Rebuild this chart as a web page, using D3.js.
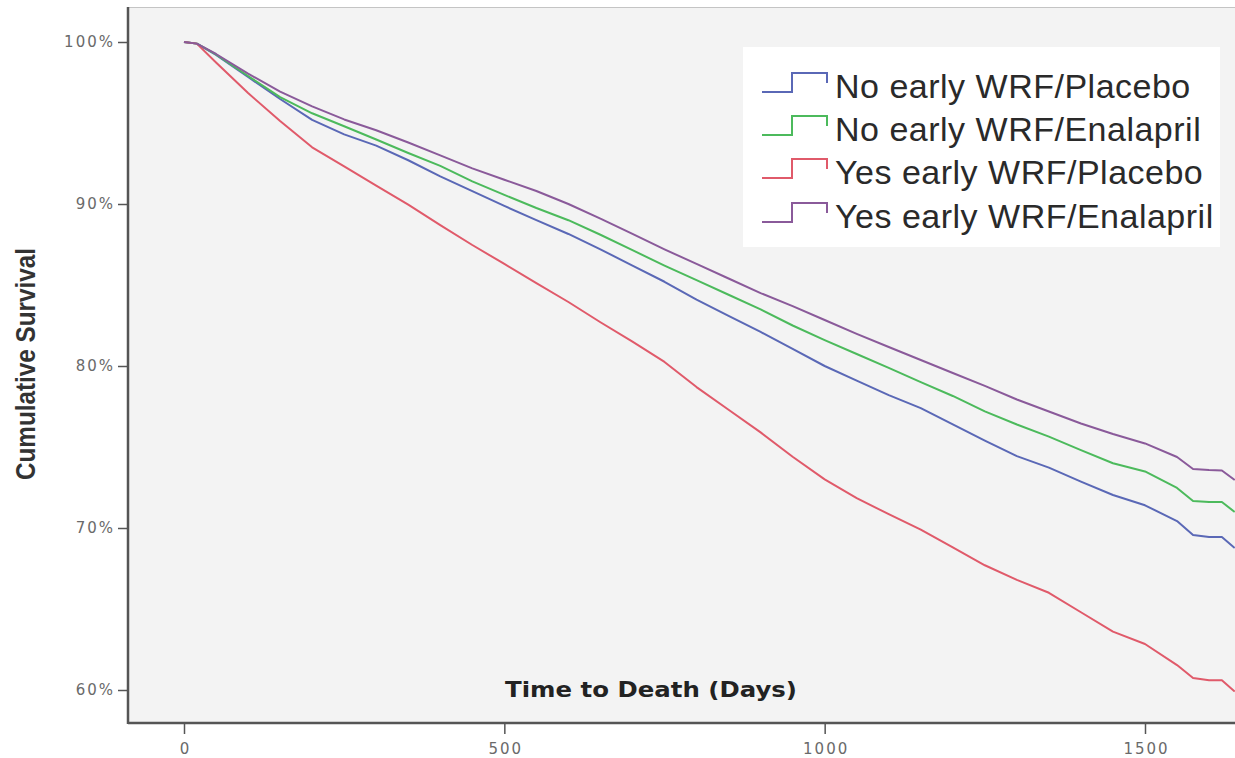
<!DOCTYPE html>
<html>
<head>
<meta charset="utf-8">
<script src="https://cdn.jsdelivr.net/npm/d3@7"></script>
<style>
  html, body { margin: 0; padding: 0; background: #ffffff; }
  svg { display: block; }
</style>
</head>
<body>
<svg id="chart" width="1235" height="758"></svg>
<script>
// ---- data ----
const days = [0,20,50,100,150,200,250,300,350,400,450,500,550,600,650,700,750,800,850,900,950,1000,1050,1100,1150,1200,1250,1300,1350,1400,1450,1500,1550,1575,1600,1620,1640];
const noWrfPlacebo = [100,99.9,99.2,97.84,96.48,95.19,94.3,93.6,92.7,91.7,90.8,89.88,89.0,88.15,87.2,86.2,85.2,84.1,83.1,82.1,81.05,80.0,79.1,78.2,77.4,76.4,75.4,74.44,73.73,72.86,72.04,71.4,70.43,69.57,69.44,69.44,68.77];
const noWrfEnalapril = [100,99.9,99.23,97.9,96.6,95.6,94.8,93.98,93.15,92.35,91.4,90.56,89.75,89.0,88.1,87.15,86.2,85.3,84.4,83.5,82.5,81.6,80.74,79.88,79.0,78.15,77.2,76.39,75.64,74.81,74.0,73.49,72.47,71.67,71.6,71.6,70.99];
const yesWrfPlacebo = [100,99.9,98.73,96.85,95.12,93.5,92.32,91.14,89.96,88.7,87.47,86.3,85.12,83.95,82.7,81.5,80.25,78.7,77.3,75.9,74.4,73.0,71.85,70.85,69.9,68.8,67.7,66.8,66.0,64.8,63.6,62.84,61.54,60.74,60.6,60.6,59.9];
const yesWrfEnalapril = [100,99.9,99.26,98.05,96.94,96.03,95.22,94.55,93.8,93.0,92.2,91.5,90.8,90.0,89.1,88.15,87.2,86.3,85.4,84.5,83.7,82.84,81.98,81.17,80.37,79.57,78.77,77.93,77.19,76.45,75.8,75.22,74.38,73.64,73.58,73.55,72.96];
const seriesLabels = ["No early WRF/Placebo","No early WRF/Enalapril","Yes early WRF/Placebo","Yes early WRF/Enalapril"];
const yTicks = [60,70,80,90,100];
const xTicks = [0,500,1000,1500];
const xTitle = "Time to Death (Days)";
const yTitle = "Cumulative Survival";

// ---- layout ----
const svg = d3.select("#chart");
const frame = {left: 128, top: 7, right: 1235, bottom: 723};
const x = d3.scaleLinear().domain([0, 1500]).range([184, 1145]);
const y = d3.scaleLinear().domain([60, 100]).range([690, 42]);
const colors = ["#5a68b6", "#4cba5c", "#e05a6a", "#8a5a9a"];
const series = [noWrfPlacebo, noWrfEnalapril, yesWrfPlacebo, yesWrfEnalapril];

// plot background
svg.append("rect")
  .attr("x", frame.left).attr("y", frame.top)
  .attr("width", frame.right - frame.left).attr("height", frame.bottom - frame.top)
  .attr("fill", "#f3f3f3");
svg.append("line")
  .attr("x1", frame.left).attr("x2", frame.right)
  .attr("y1", frame.top + 0.5).attr("y2", frame.top + 0.5)
  .attr("stroke", "#c4c4c4").attr("stroke-width", 1);

svg.append("clipPath").attr("id", "clip")
  .append("rect")
  .attr("x", frame.left).attr("y", frame.top)
  .attr("width", frame.right - frame.left).attr("height", frame.bottom - frame.top);

// curves
const line = d3.line()
  .x((d, i) => x(days[i]))
  .y(d => y(d))
  .curve(d3.curveLinear);

const g = svg.append("g").attr("clip-path", "url(#clip)");
series.forEach((s, k) => {
  g.append("path")
    .datum(s)
    .attr("d", line)
    .attr("fill", "none")
    .attr("stroke", colors[k])
    .attr("stroke-width", 2)
    .attr("stroke-linejoin", "round");
});

// axes
const tickFont = (sel) => sel.selectAll("text")
  .attr("font-family", "'DejaVu Sans', sans-serif")
  .attr("font-size", 15)
  .attr("letter-spacing", 2)
  .attr("fill", "#6a6a6a");

const yAxis = svg.append("g")
  .attr("transform", `translate(${frame.left},0)`)
  .call(d3.axisLeft(y).tickValues(yTicks).tickSize(10).tickPadding(3).tickFormat(d => d + "%"));
yAxis.select(".domain").remove();
yAxis.selectAll(".tick line").attr("stroke", "#555").attr("stroke-width", 1.5);
tickFont(yAxis);

const xAxis = svg.append("g")
  .attr("transform", `translate(0,${frame.bottom})`)
  .call(d3.axisBottom(x).tickValues(xTicks).tickSize(11).tickPadding(9).tickFormat(d3.format("d")));
xAxis.select(".domain").remove();
xAxis.selectAll(".tick line").attr("stroke", "#555").attr("stroke-width", 1.5);
tickFont(xAxis);
xAxis.selectAll("text").attr("dx", 1);

// axis lines
svg.append("line")
  .attr("x1", frame.left).attr("x2", frame.left)
  .attr("y1", frame.top).attr("y2", frame.bottom + 1)
  .attr("stroke", "#555").attr("stroke-width", 2.5);
svg.append("line")
  .attr("x1", frame.left).attr("x2", frame.right)
  .attr("y1", frame.bottom).attr("y2", frame.bottom)
  .attr("stroke", "#555").attr("stroke-width", 2.5);

// titles
svg.append("text")
  .attr("transform", "translate(35,364) rotate(-90)")
  .attr("text-anchor", "middle")
  .attr("font-family", "'Liberation Sans', Arial, sans-serif")
  .attr("font-weight", "bold")
  .attr("font-size", 27)
  .attr("textLength", 232)
  .attr("lengthAdjust", "spacingAndGlyphs")
  .attr("fill", "#333")
  .text(yTitle);

svg.append("text")
  .attr("x", 505).attr("y", 697)
  .attr("font-family", "'DejaVu Sans', sans-serif")
  .attr("font-weight", "bold")
  .attr("font-size", 21)
  .attr("textLength", 292)
  .attr("lengthAdjust", "spacingAndGlyphs")
  .attr("fill", "#222")
  .text(xTitle);

// legend
const legend = svg.append("g");
legend.append("rect")
  .attr("x", 743).attr("y", 47).attr("width", 477).attr("height", 200)
  .attr("fill", "#ffffff");
const baselines = [98, 141, 184, 228];
const legendWidths = [352, 364, 370, 380];
seriesLabels.forEach((lab, k) => {
  const b = baselines[k];
  legend.append("path")
    .attr("d", `M762,${b - 6}H792V${b - 25}H827V${b - 15}`)
    .attr("fill", "none")
    .attr("stroke", colors[k])
    .attr("stroke-width", 2);
  legend.append("text")
    .attr("x", 835).attr("y", b)
    .attr("font-family", "'Liberation Sans', Arial, sans-serif")
    .attr("font-size", 34)
    .attr("letter-spacing", 0.5)
    .attr("fill", "#2a2a2a")
    .text(lab);
});
</script>
</body>
</html>
